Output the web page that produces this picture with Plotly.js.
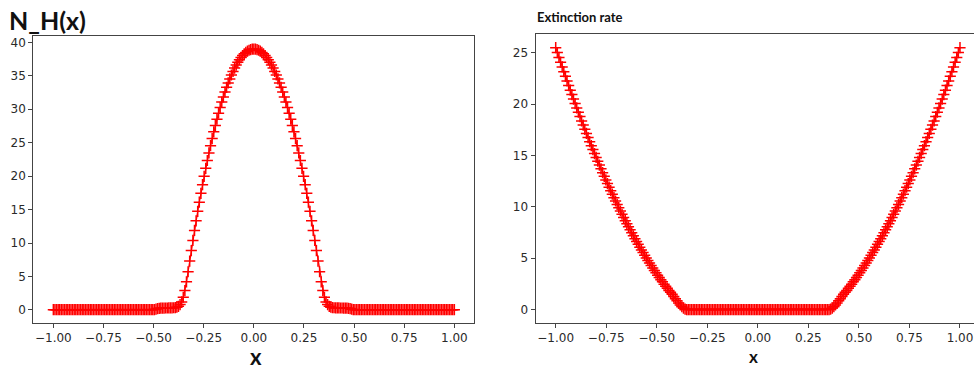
<!DOCTYPE html>
<html>
<head>
<meta charset="utf-8">
<script src="https://cdn.plot.ly/plotly-3.0.1.min.js"></script>
<style>html,body{margin:0;padding:0;background:#fff;}#chart{width:974px;height:372px;}</style>
</head>
<body>
<div id="chart"></div>
<script>
// x grid: -1 to 1, step 0.008 (251 samples)
const X_START = -1;
const X_STEP = 0.008;

const nH = [
  0.04,0.04,0.04,0.04,0.04,0.04,0.04,0.04,0.04,0.04,
  0.04,0.04,0.04,0.04,0.04,0.04,0.04,0.04,0.04,0.04,
  0.04,0.04,0.04,0.04,0.04,0.04,0.04,0.04,0.04,0.04,
  0.04,0.04,0.04,0.04,0.04,0.04,0.04,0.04,0.04,0.04,
  0.04,0.04,0.04,0.04,0.04,0.04,0.04,0.04,0.04,0.04,
  0.04,0.04,0.04,0.04,0.04,0.04,0.04,0.04,0.04,0.04,
  0.04,0.04,0.04,
  0.06,0.12,0.20,0.25,0.27,0.28,0.28,0.29,0.29,0.30,
  0.30,0.31,0.33,0.36,0.42,0.55,0.80,1.20,1.90,2.90,
  4.20,5.71,7.31,8.88,10.40,11.89,13.33,14.74,16.11,17.43,
  18.72,19.97,21.17,22.34,23.47,24.56,25.61,26.62,27.59,28.52,
  29.41,30.27,31.08,31.85,32.58,33.28,33.93,34.54,35.12,35.65,
  36.15,36.60,37.02,37.40,37.73,38.03,38.29,38.50,38.68,38.82,
  38.92,38.98,
  39.00,
  38.98,38.92,38.82,38.68,38.50,38.29,38.03,37.73,37.40,37.02,
  36.60,36.15,35.65,35.12,34.54,33.93,33.28,32.58,31.85,31.08,
  30.27,29.41,28.52,27.59,26.62,25.61,24.56,23.47,22.34,21.17,
  19.97,18.72,17.43,16.11,14.74,13.33,11.89,10.40,8.88,7.31,
  5.71,4.20,2.90,1.90,1.20,0.80,0.55,0.42,0.36,0.33,
  0.31,0.30,0.30,0.29,0.29,0.28,0.28,0.27,0.25,0.20,
  0.12,0.06,
  0.04,0.04,0.04,0.04,0.04,0.04,0.04,0.04,0.04,0.04,
  0.04,0.04,0.04,0.04,0.04,0.04,0.04,0.04,0.04,0.04,
  0.04,0.04,0.04,0.04,0.04,0.04,0.04,0.04,0.04,0.04,
  0.04,0.04,0.04,0.04,0.04,0.04,0.04,0.04,0.04,0.04,
  0.04,0.04,0.04,0.04,0.04,0.04,0.04,0.04,0.04,0.04,
  0.04,0.04,0.04,0.04,0.04,0.04,0.04,0.04,0.04,0.04,
  0.04,0.04,0.04
];

const extinction = [
  25.50,25.02,24.55,24.09,23.62,23.16,22.71,22.26,21.81,21.36,
  20.93,20.49,20.06,19.63,19.21,18.79,18.37,17.96,17.55,17.15,
  16.75,16.35,15.96,15.58,15.19,14.81,14.44,14.07,13.70,13.33,
  12.97,12.62,12.27,11.92,11.58,11.24,10.90,10.57,10.24,9.92,
  9.60,9.28,8.97,8.66,8.36,8.06,7.77,7.47,7.19,6.90,
  6.62,6.35,6.08,5.81,5.55,5.29,5.03,4.78,4.53,4.29,
  4.05,3.81,3.58,3.35,3.13,2.91,2.70,2.48,2.28,2.07,
  1.87,1.68,1.49,1.28,1.06,0.85,0.64,0.45,0.28,0.15,
  0.05,
  0,0,0,0,0,0,0,0,0,0,
  0,0,0,0,0,0,0,0,0,0,
  0,0,0,0,0,0,0,0,0,0,
  0,0,0,0,0,0,0,0,0,0,
  0,0,0,0,0,0,0,0,0,0,
  0,0,0,0,0,0,0,0,0,0,
  0,0,0,0,0,0,0,0,0,0,
  0,0,0,0,0,0,0,0,0,0,
  0,0,0,0,0,0,0,0,0,
  0.05,0.15,0.28,0.45,0.64,0.85,1.06,1.28,1.49,1.68,
  1.87,2.07,2.28,2.48,2.70,2.91,3.13,3.35,3.58,3.81,
  4.05,4.29,4.53,4.78,5.03,5.29,5.55,5.81,6.08,6.35,
  6.62,6.90,7.19,7.47,7.77,8.06,8.36,8.66,8.97,9.28,
  9.60,9.92,10.24,10.57,10.90,11.24,11.58,11.92,12.27,12.62,
  12.97,13.33,13.70,14.07,14.44,14.81,15.19,15.58,15.96,16.35,
  16.75,17.15,17.55,17.96,18.37,18.79,19.21,19.63,20.06,20.49,
  20.93,21.36,21.81,22.26,22.71,23.16,23.62,24.09,24.55,25.02,
  25.50
];

const xTickVals = [-1, -0.75, -0.5, -0.25, 0, 0.25, 0.5, 0.75, 1];
const xTickText = ["\u22121.00", "\u22120.75", "\u22120.50", "\u22120.25", "0.00", "0.25", "0.50", "0.75", "1.00"];
const yTickVals1 = [0, 5, 10, 15, 20, 25, 30, 35, 40];
const yTickVals2 = [0, 5, 10, 15, 20, 25];

const titleLeft = "N_H(x)";
const titleRight = "Extinction rate";
const xLabel = "x";

const W = 974, H = 372;
const markerStyle = {symbol: 'cross-thin-open', size: 8, color: 'red', line: {color: 'red', width: 1.5}};
const tickFont = {family: 'DejaVu Sans', size: 12, color: '#2a2a2a'};

const traces = [
  {x0: X_START, dx: X_STEP, y: nH, xaxis: 'x', yaxis: 'y', mode: 'lines+markers',
   line: {color: 'red', width: 1.2}, marker: markerStyle, hoverinfo: 'skip'},
  {x0: X_START, dx: X_STEP, y: extinction, xaxis: 'x2', yaxis: 'y2', mode: 'lines+markers',
   line: {color: 'red', width: 1.2}, marker: markerStyle, hoverinfo: 'skip'}
];

function px(v) { return v / W; }
function py(v) { return (H - v) / H; }

const axCommon = {
  showgrid: false, zeroline: false, showline: true, linecolor: '#444', linewidth: 1,
  ticks: 'outside', ticklen: 4, tickcolor: '#444', tickwidth: 1, tickfont: tickFont
};

const layout = {
  width: W, height: H,
  margin: {l: 0, r: 0, t: 0, b: 0},
  paper_bgcolor: '#fff', plot_bgcolor: '#fff',
  showlegend: false,
  xaxis: Object.assign({}, axCommon, {domain: [px(33.3), px(474.4)], range: [-1.1, 1.1],
    tickvals: xTickVals, ticktext: xTickText, anchor: 'y', mirror: true}),
  yaxis: Object.assign({}, axCommon, {domain: [py(323), py(36)], range: [-1.95, 40.95],
    tickvals: yTickVals1, ticktext: yTickVals1.map(String), anchor: 'x', mirror: true}),
  xaxis2: Object.assign({}, axCommon, {domain: [px(535.5), 1], range: [-1.1, 1.0693],
    tickvals: xTickVals, ticktext: xTickText, anchor: 'y2', mirror: true}),
  yaxis2: Object.assign({}, axCommon, {domain: [py(322.7), py(34.3)], range: [-1.275, 26.8],
    tickvals: yTickVals2, ticktext: yTickVals2.map(String), anchor: 'x2', mirror: false}),
  annotations: [
    {text: titleLeft, xref: 'paper', yref: 'paper', x: px(7), y: py(20), xanchor: 'left', yanchor: 'middle',
     showarrow: false, font: {family: 'Lato', size: 25, color: '#111', weight: 'bold'}},
    {text: titleRight, xref: 'paper', yref: 'paper', x: px(535), y: py(17), xanchor: 'left', yanchor: 'middle',
     showarrow: false, font: {family: 'Lato', size: 13, color: '#111', weight: 'bold'}},
    {text: xLabel, xref: 'paper', yref: 'paper', x: px(256), y: py(356), xanchor: 'center', yanchor: 'middle',
     showarrow: false, font: {family: 'Lato', size: 22, color: '#111', weight: 'bold'}},
    {text: xLabel, xref: 'paper', yref: 'paper', x: px(753), y: py(356), xanchor: 'center', yanchor: 'middle',
     showarrow: false, font: {family: 'Lato', size: 17, color: '#111', weight: 'bold'}}
  ]
};

Plotly.newPlot('chart', traces, layout, {staticPlot: true, displayModeBar: false});
</script>
</body>
</html>
